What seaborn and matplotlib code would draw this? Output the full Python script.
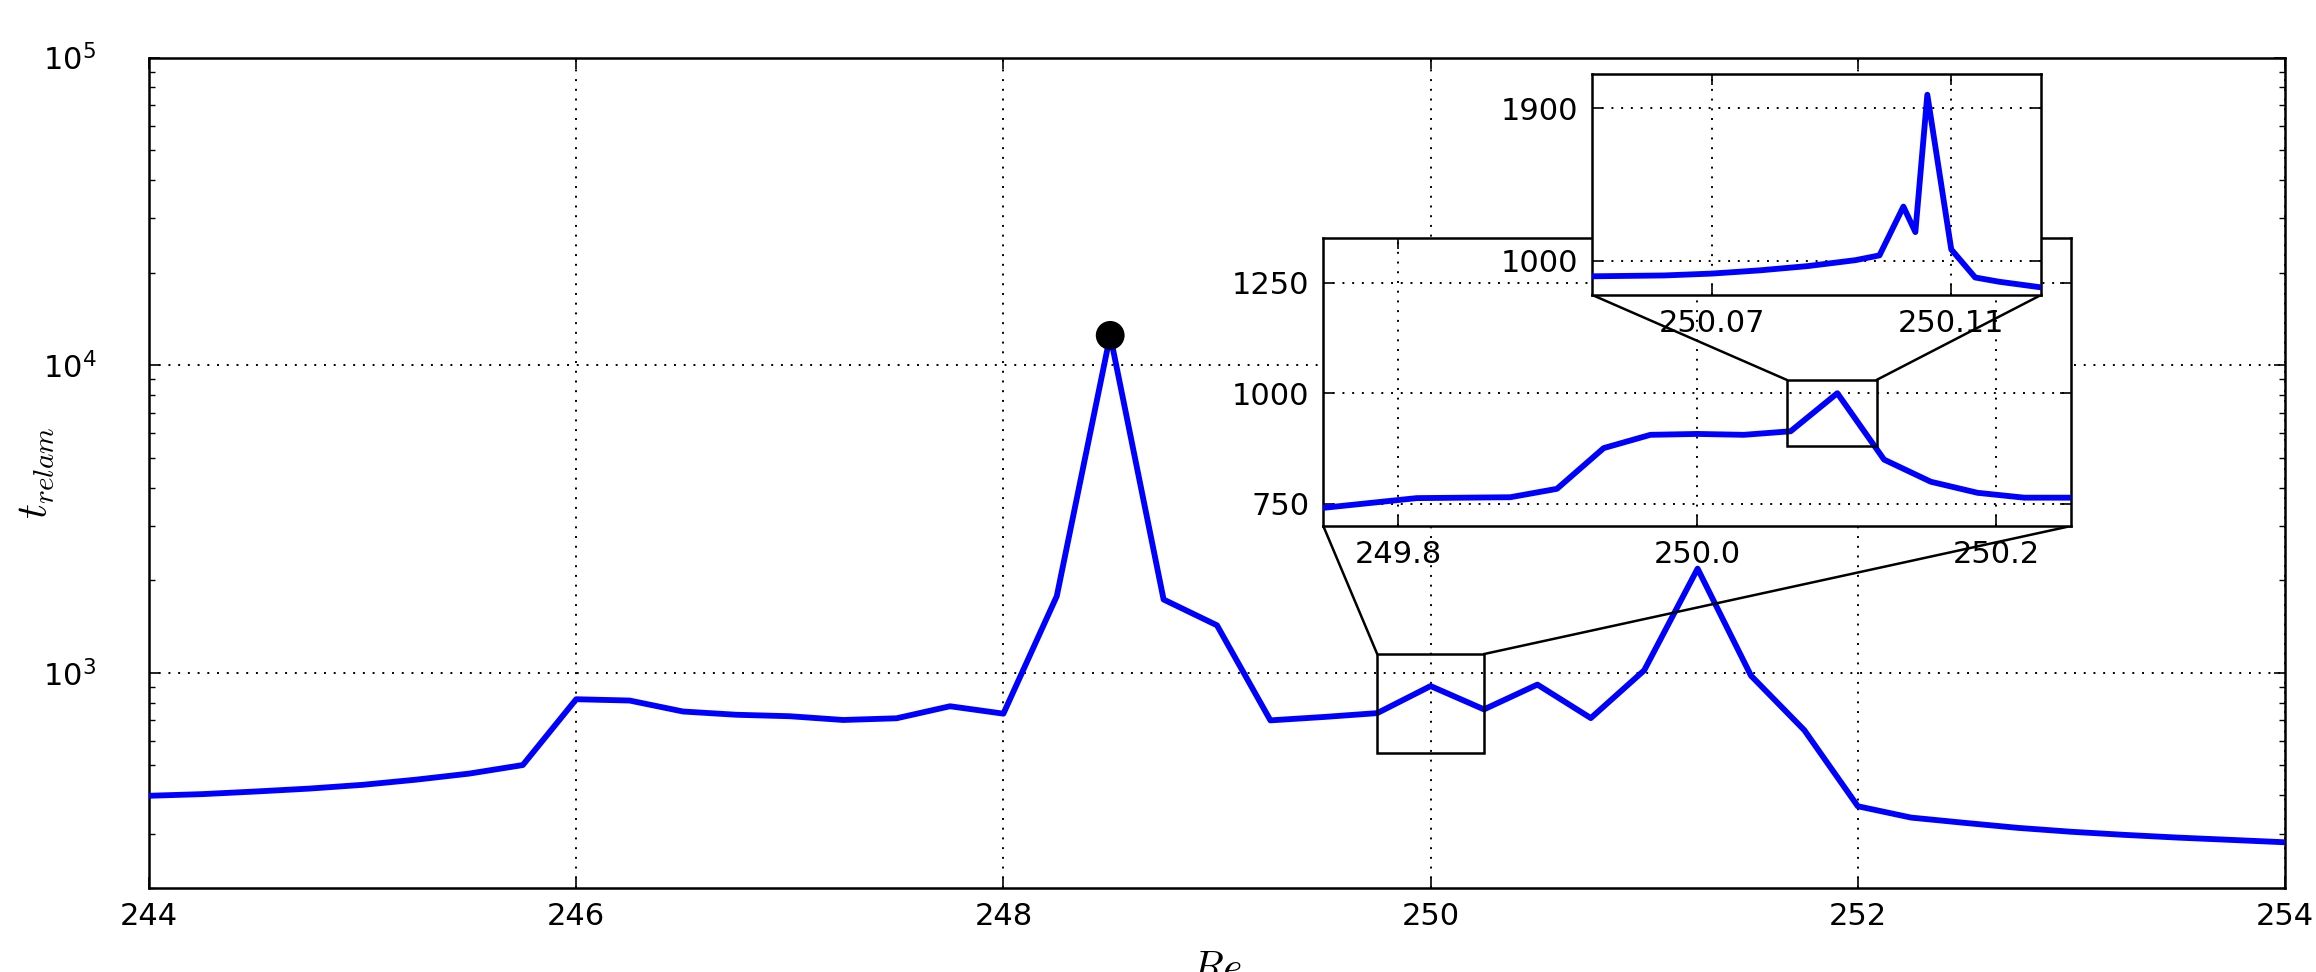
import numpy as np
import pandas as pd
import matplotlib
matplotlib.use("Agg")
import matplotlib.pyplot as plt
import seaborn as sns
from matplotlib.patches import Rectangle, ConnectionPatch
from matplotlib.ticker import FixedLocator, FormatStrFormatter, LogLocator, NullLocator

# ---------------- data ----------------
re_main = [244.00, 244.25, 244.50, 244.75, 245.00, 245.25, 245.50, 245.75,
           246.00, 246.25, 246.50, 246.75, 247.00, 247.25, 247.50, 247.75,
           248.00, 248.25, 248.50, 248.75, 249.00, 249.25, 249.50, 249.75,
           250.00, 250.25, 250.50, 250.75, 251.00, 251.25, 251.50, 251.75,
           252.00, 252.25, 252.50, 252.75, 253.00, 253.25, 253.50, 253.75, 254.00]
t_main = [398, 403, 411, 420, 432, 449, 470, 501,
          820, 812, 748, 730, 722, 702, 711, 778,
          736, 1775, 12500, 1730, 1426, 700, 718, 739,
          905, 760, 915, 712, 1018, 2180, 978, 650,
          368, 338, 325, 313, 304, 297, 291, 286, 281]

peak_re = [248.5]
peak_t = [12500]

re_zoom1 = [249.75, 249.78125, 249.8125, 249.84375, 249.875, 249.90625, 249.9375,
            249.96875, 250.0, 250.03125, 250.0625, 250.09375, 250.125, 250.15625,
            250.1875, 250.21875, 250.25]
t_zoom1 = [741, 752, 763, 764, 765, 784, 876, 906, 908, 906, 914, 1000, 850,
           800, 775, 764, 764]

re_zoom2 = [250.050, 250.062, 250.070, 250.078, 250.086, 250.094, 250.098,
            250.102, 250.104, 250.106, 250.110, 250.114, 250.118, 250.125]
t_zoom2 = [910, 915, 926, 945, 970, 1005, 1033, 1320, 1170, 1978, 1068, 903,
           878, 845]

main_xticks = [244, 246, 248, 250, 252, 254]
zoom1_xticks = [249.8, 250.0, 250.2]
zoom1_yticks = [750, 1000, 1250]
zoom2_xticks = [250.07, 250.11]
zoom2_yticks = [1000, 1900]

main_xlim = (244, 254)
main_ylim = (200, 1e5)
zoom1_xlim = (249.75, 250.25)
zoom1_ylim = (700, 1350)
zoom2_xlim = (250.05, 250.125)
zoom2_ylim = (800, 2100)

box1 = (249.75, 250.25, 550, 1150)   # x0, x1, y0, y1 in main axes
box2 = (250.06, 250.12, 880, 1030)   # x0, x1, y0, y1 in first inset

# ---------------- style ----------------
plt.rcParams.update({
    "font.family": ["DejaVu Sans"],
    "font.size": 22,
    "mathtext.fontset": "cm",
    "axes.linewidth": 1.8,
    "axes.edgecolor": "black",
    "xtick.direction": "in",
    "ytick.direction": "in",
    "xtick.top": True,
    "ytick.right": True,
    "xtick.major.size": 8,
    "ytick.major.size": 8,
    "xtick.minor.size": 4,
    "ytick.minor.size": 4,
    "xtick.major.width": 1.2,
    "ytick.major.width": 1.2,
    "xtick.minor.width": 1.0,
    "ytick.minor.width": 1.0,
    "xtick.major.pad": 10,
    "ytick.major.pad": 10,
    "xtick.labelsize": 22,
    "ytick.labelsize": 22,
})

W, H = 2316, 972
fig = plt.figure(figsize=(W / 100, H / 100), dpi=100)

def frac(l, t, r, b):
    return [l / W, 1 - b / H, (r - l) / W, (b - t) / H]

grid_kw = dict(ls=(0, (1, 4)), color="black", lw=1.4)
LW = 4.2

# ---------------- main axes ----------------
ax = fig.add_axes(frac(149, 57.6, 2285, 887.7))
ax.set_yscale("log")
sns.lineplot(x=re_main, y=t_main, ax=ax, color="blue", lw=LW,
             estimator=None, sort=False, zorder=3)
sns.scatterplot(x=peak_re, y=peak_t, ax=ax, color="black", s=430,
                edgecolor="none", zorder=5)
ax.set_xlim(*main_xlim)
ax.set_ylim(*main_ylim)
ax.xaxis.set_major_locator(FixedLocator(main_xticks))
ax.xaxis.set_major_formatter(FormatStrFormatter("%d"))
ax.xaxis.set_minor_locator(NullLocator())
ax.yaxis.set_major_locator(LogLocator(base=10))
ax.yaxis.set_minor_locator(LogLocator(base=10, subs=np.arange(2, 10)))
ax.tick_params(axis="y", which="major", pad=38)
ax.grid(True, which="major", **grid_kw)
ax.set_axisbelow(True)
ax.set_xlabel(r"$Re$", fontsize=30)
ax.xaxis.set_label_coords(0.5, -0.073)
ax.set_ylabel(r"$t_{relam}$", fontsize=30)
ax.yaxis.set_label_coords(-0.043, 0.5)
ax.add_patch(Rectangle((box1[0], box1[2]), box1[1] - box1[0], box1[3] - box1[2],
                       fill=False, ec="black", lw=1.8, zorder=4))

# ---------------- first inset ----------------
ax1 = fig.add_axes(frac(1323.3, 238.3, 2071, 526))
ax1.set_zorder(2)
ax1.set_facecolor("white")
sns.lineplot(x=re_zoom1, y=t_zoom1, ax=ax1, color="blue", lw=LW,
             estimator=None, sort=False, zorder=3)
ax1.set_xlim(*zoom1_xlim)
ax1.set_ylim(*zoom1_ylim)
ax1.xaxis.set_major_locator(FixedLocator(zoom1_xticks))
ax1.xaxis.set_major_formatter(FormatStrFormatter("%.1f"))
ax1.yaxis.set_major_locator(FixedLocator(zoom1_yticks))
ax1.yaxis.set_major_formatter(FormatStrFormatter("%d"))
ax1.grid(True, which="major", **grid_kw)
ax1.set_xlabel("")
ax1.set_ylabel("")
ax1.add_patch(Rectangle((box2[0], box2[2]), box2[1] - box2[0], box2[3] - box2[2],
                        fill=False, ec="black", lw=1.8, zorder=4))

# ---------------- second inset ----------------
ax2 = fig.add_axes(frac(1592.3, 74, 2041, 295))
ax2.set_zorder(3)
ax2.set_facecolor("white")
sns.lineplot(x=re_zoom2, y=t_zoom2, ax=ax2, color="blue", lw=LW,
             estimator=None, sort=False, zorder=3)
ax2.set_xlim(*zoom2_xlim)
ax2.set_ylim(*zoom2_ylim)
ax2.xaxis.set_major_locator(FixedLocator(zoom2_xticks))
ax2.xaxis.set_major_formatter(FormatStrFormatter("%.2f"))
ax2.yaxis.set_major_locator(FixedLocator(zoom2_yticks))
ax2.yaxis.set_major_formatter(FormatStrFormatter("%d"))
ax2.grid(True, which="major", **grid_kw)
ax2.set_xlabel("")
ax2.set_ylabel("")

# ---------------- connectors ----------------
for (xa, corner) in [(box1[0], (0, 0)), (box1[1], (1, 0))]:
    cp = ConnectionPatch(xyA=(xa, box1[3]), coordsA=ax.transData,
                         xyB=corner, coordsB=ax1.transAxes,
                         color="black", lw=1.8, zorder=1.5)
    fig.add_artist(cp)
for (xa, corner) in [(box2[0], (0, 0)), (box2[1], (1, 0))]:
    cp = ConnectionPatch(xyA=(xa, box2[3]), coordsA=ax1.transData,
                         xyB=corner, coordsB=ax2.transAxes,
                         color="black", lw=1.8, zorder=2.5)
    fig.add_artist(cp)

fig.savefig("out.png", dpi=100, facecolor="white")
